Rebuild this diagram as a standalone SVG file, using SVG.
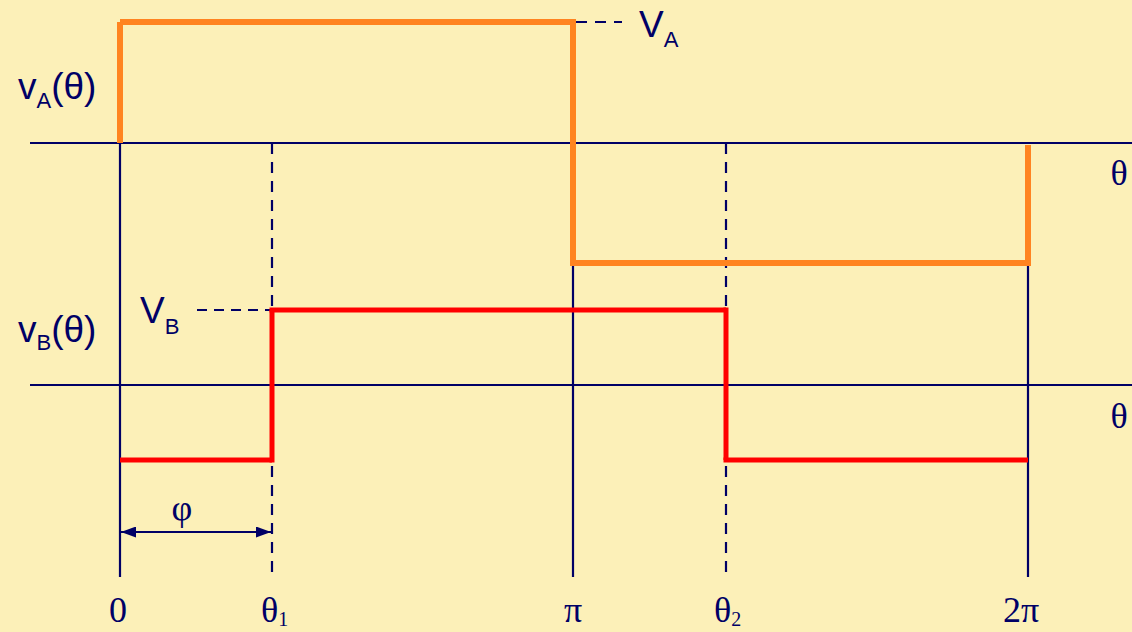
<svg xmlns="http://www.w3.org/2000/svg" width="1132" height="632" viewBox="0 0 1132 632">
<defs>
<style>
.ax{stroke:#000066;stroke-width:2.2;fill:none}
.dash{stroke:#000066;stroke-width:2.2;fill:none;stroke-dasharray:11 8}
.va{stroke:#FF8420;stroke-width:6;fill:none;stroke-linecap:butt}
.vb{stroke:#FF0000;stroke-width:5;fill:none;stroke-linecap:butt}
.sans{font-family:"Liberation Sans",Arial,sans-serif;fill:#000066;font-size:37px}
.serif{font-family:"Liberation Serif","Times New Roman",serif;fill:#000066;font-size:36px}
.sub{font-size:22px}
.ssub{font-size:20px}
</style>
<marker id="arr" markerUnits="userSpaceOnUse" markerWidth="15" markerHeight="11" refX="15" refY="5.5" orient="auto-start-reverse">
<path d="M0,0 L15,5.5 L0,11 z" fill="#000066"/>
</marker>
</defs>
<rect x="0" y="0" width="1132" height="632" fill="#FCF0B8"/>
<g id="axes">
<line class="ax" x1="30" y1="143" x2="1132" y2="143"/>
<line class="ax" x1="30" y1="385" x2="1132" y2="385"/>
<line class="ax" x1="120" y1="143" x2="120" y2="577"/>
<line class="dash" x1="272" y1="143" x2="272" y2="577"/>
<line class="ax" x1="573" y1="263" x2="573" y2="577"/>
<line class="dash" x1="726" y1="143" x2="726" y2="577"/>
<line class="ax" x1="1028" y1="263" x2="1028" y2="577"/>
<line class="dash" x1="576" y1="22" x2="622" y2="22"/>
<line class="dash" x1="197" y1="310" x2="270" y2="310" style="stroke-dasharray:10 7"/>
</g>
<g id="connectors">
<line class="ax" x1="121" y1="532" x2="271" y2="532" marker-start="url(#arr)" marker-end="url(#arr)"/>
</g>
<g id="waveA">
<line class="va" x1="120" y1="22" x2="120" y2="143"/>
<line class="va" x1="120" y1="22" x2="573" y2="22"/>
<line class="va" x1="573" y1="19" x2="573" y2="263"/>
<line class="va" x1="570" y1="263" x2="1028" y2="263"/>
<line class="va" x1="1028" y1="266" x2="1028" y2="145"/>
</g>
<g id="waveB">
<line class="vb" x1="120" y1="460" x2="272" y2="460"/>
<line class="vb" x1="272" y1="462.5" x2="272" y2="310"/>
<line class="vb" x1="269.5" y1="310" x2="726" y2="310"/>
<line class="vb" x1="726" y1="307.5" x2="726" y2="460"/>
<line class="vb" x1="723.5" y1="460" x2="1028" y2="460"/>
</g>
<g id="labels">
<text class="sans" x="18" y="99">v<tspan class="sub" dy="9">A</tspan><tspan dy="-9">(θ)</tspan></text>
<text class="sans" x="18" y="342">v<tspan class="sub" dy="8">B</tspan><tspan dy="-8">(θ)</tspan></text>
<text class="sans" x="639" y="37">V<tspan class="sub" dy="10">A</tspan></text>
<text class="sans" x="140" y="323">V<tspan class="sub" dy="11">B</tspan></text>
<text class="serif" x="182" y="520" text-anchor="middle">φ</text>
<text class="serif" x="1119" y="185" text-anchor="middle">θ</text>
<text class="serif" x="1119" y="428" text-anchor="middle">θ</text>
<text class="serif" x="118" y="622" text-anchor="middle">0</text>
<text class="serif" x="261" y="622">θ<tspan class="ssub" dy="4">1</tspan></text>
<text class="serif" x="573" y="622" text-anchor="middle">π</text>
<text class="serif" x="714" y="622">θ<tspan class="ssub" dy="4">2</tspan></text>
<text class="serif" x="1021" y="622" text-anchor="middle">2π</text>
</g>
</svg>
